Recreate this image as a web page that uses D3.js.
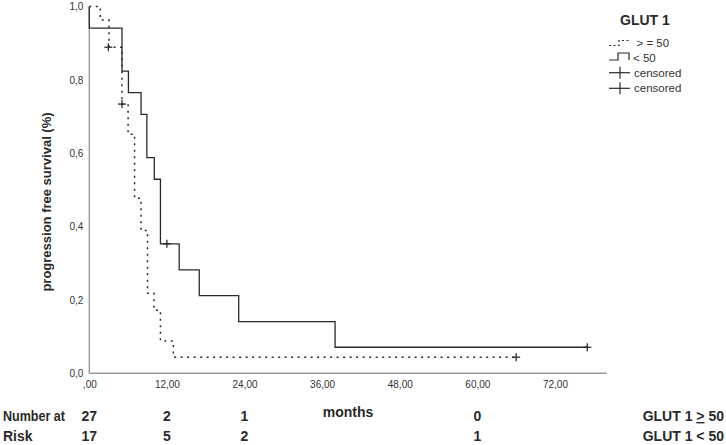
<!DOCTYPE html>
<html><head><meta charset="utf-8">
<script src="https://cdn.jsdelivr.net/npm/d3@7"></script>
<style>body{margin:0;background:#fff}svg{display:block;font-family:"Liberation Sans",Arial,sans-serif}</style>
</head><body>
<script>
// ---- data ----
const ge50Times = [0, 1.7, 3.05, 5.05, 6.0, 7.0, 8.0, 9.0, 10.0, 11.0, 13.0];
const ge50Surv  = [1.0, 0.963, 0.889, 0.734, 0.652, 0.477, 0.389, 0.218, 0.172, 0.088, 0.044];
const ge50End = 66.0;
const ge50CensorTimes = [2.95, 5.05, 66.0];
const ge50CensorSurv  = [0.889, 0.734, 0.044];

const lt50Times = [0, 0, 5.05, 6.05, 8.0, 8.9, 10.05, 11.0, 13.9, 17.0, 23.1, 38.0];
const lt50Surv  = [1.0, 0.941, 0.824, 0.765, 0.706, 0.588, 0.529, 0.353, 0.282, 0.212, 0.141, 0.071];
const lt50End = 77.0;
const lt50CensorTimes = [12.0, 77.0];
const lt50CensorSurv  = [0.353, 0.071];

const xTicks = [0, 12, 24, 36, 48, 60, 72];
const xTickLabels = [",00", "12,00", "24,00", "36,00", "48,00", "60,00", "72,00"];
const yTicks = [0, 0.2, 0.4, 0.6, 0.8, 1.0];
const yTickLabels = ["0,0", "0,2", "0,4", "0,6", "0,8", "1,0"];

const riskTimes = [0, 12, 24, 60];
const riskGe50 = [27, 2, 1, 0];
const riskLt50 = [17, 5, 2, 1];

const legendLabels = ["> = 50", "< 50", "censored", "censored"];

// ---- layout ----
const W = 726, H = 445;
const svg = d3.select("body").append("svg").attr("width", W).attr("height", H);
const x = d3.scaleLinear().domain([0, 80]).range([89.3, 606.7]);
const y = d3.scaleLinear().domain([0, 1]).range([373.3, 6.5]);
const ink = "#2a2a2a";

// axes
const axisG = svg.append("g");
axisG.append("line").attr("x1", x(0)).attr("x2", x(80)).attr("y1", y(0)).attr("y2", y(0))
  .attr("stroke", "#999").attr("stroke-width", 1.4);
axisG.append("line").attr("x1", x(0)).attr("x2", x(0)).attr("y1", y(0)).attr("y2", y(1))
  .attr("stroke", "#999").attr("stroke-width", 1.4);

const xAxis = d3.axisBottom(x).tickValues(xTicks).tickSize(0).tickPadding(8)
  .tickFormat((d, i) => xTickLabels[i]);
const gx = svg.append("g").attr("transform", `translate(0,${y(0)})`).call(xAxis);
gx.select(".domain").remove();
gx.selectAll("text").attr("font-size", 10).attr("fill", "#333").attr("font-family", "Liberation Sans, Arial, sans-serif");

const yAxis = d3.axisLeft(y).tickValues(yTicks).tickSize(0).tickPadding(6)
  .tickFormat((d, i) => yTickLabels[i]);
const gy = svg.append("g").attr("transform", `translate(${x(0)},0)`).call(yAxis);
gy.select(".domain").remove();
gy.selectAll("text").attr("font-size", 10).attr("fill", "#333").attr("font-family", "Liberation Sans, Arial, sans-serif");

// y label
svg.append("text").attr("transform", "translate(51,202) rotate(-90)")
  .attr("text-anchor", "middle").attr("font-size", 13).attr("font-weight", "bold").attr("fill", ink)
  .text("progression free survival (%)");

// curves
const line = d3.line().x(d => x(d[0])).y(d => y(d[1])).curve(d3.curveStepAfter);
function pts(times, surv, end) {
  const p = times.map((t, i) => [t, surv[i]]);
  p.push([end, surv[surv.length - 1]]);
  return p;
}
svg.append("path").datum(pts(lt50Times, lt50Surv, lt50End)).attr("d", line)
  .attr("fill", "none").attr("stroke", ink).attr("stroke-width", 1.3);
svg.append("path").datum(pts(ge50Times, ge50Surv, ge50End)).attr("d", line)
  .attr("fill", "none").attr("stroke", ink).attr("stroke-width", 1.5).attr("stroke-dasharray", "2,4.5");

function censor(times, surv) {
  const g = svg.append("g");
  times.forEach((t, i) => {
    const cx = x(t), cy = y(surv[i]);
    g.append("line").attr("x1", cx - 4).attr("x2", cx + 4).attr("y1", cy).attr("y2", cy).attr("stroke", ink).attr("stroke-width", 1.3);
    g.append("line").attr("x1", cx).attr("x2", cx).attr("y1", cy - 4).attr("y2", cy + 4).attr("stroke", ink).attr("stroke-width", 1.3);
  });
}
censor(ge50CensorTimes, ge50CensorSurv);
censor(lt50CensorTimes, lt50CensorSurv);

// legend
const lg = svg.append("g");
lg.append("text").attr("x", 620).attr("y", 25).attr("font-size", 14).attr("font-weight", "bold").attr("fill", ink).text("GLUT 1");
const rowY = [43, 57.5, 72.7, 88.3];
const textX = [636.5, 633, 634, 634];
legendLabels.forEach((t, i) => {
  lg.append("text").attr("x", textX[i]).attr("y", rowY[i] + 4).attr("font-size", 11.5).attr("fill", "#333").text(t);
});
lg.append("path").attr("d", `M609,${rowY[0] + 2.5} H619 V${rowY[0] - 2.5} H631`).attr("fill", "none")
  .attr("stroke", ink).attr("stroke-width", 1.2).attr("stroke-dasharray", "2,2.5");
lg.append("path").attr("d", `M609,60 H618 V53 H629 V60`).attr("fill", "none").attr("stroke", ink).attr("stroke-width", 1.2);
[2, 3].forEach(i => {
  lg.append("line").attr("x1", 609).attr("x2", 630).attr("y1", rowY[i]).attr("y2", rowY[i]).attr("stroke", ink).attr("stroke-width", 1.2);
  lg.append("line").attr("x1", 620).attr("x2", 620).attr("y1", rowY[i] - 6).attr("y2", rowY[i] + 6).attr("stroke", ink).attr("stroke-width", 1.2);
});

// risk table
const tg = svg.append("g").attr("font-weight", "bold").attr("fill", ink).attr("font-size", 14);
tg.append("text").attr("x", 3).attr("y", 421).attr("textLength", 62).attr("lengthAdjust", "spacingAndGlyphs").text("Number at");
tg.append("text").attr("x", 3).attr("y", 441).text("Risk");
riskTimes.forEach((t, i) => {
  tg.append("text").attr("x", x(t)).attr("y", 421).attr("text-anchor", "middle").text(riskGe50[i]);
  tg.append("text").attr("x", x(t)).attr("y", 441).attr("text-anchor", "middle").text(riskLt50[i]);
});
tg.append("text").attr("x", 348).attr("y", 417).attr("text-anchor", "middle").text("months");
const g1 = tg.append("text").attr("x", 724).attr("y", 421).attr("text-anchor", "end");
g1.append("tspan").text("GLUT 1 ");
g1.append("tspan").attr("text-decoration", "underline").text(">");
g1.append("tspan").text(" 50");
tg.append("text").attr("x", 724).attr("y", 441).attr("text-anchor", "end").text("GLUT 1 < 50");
</script>
</body></html>
